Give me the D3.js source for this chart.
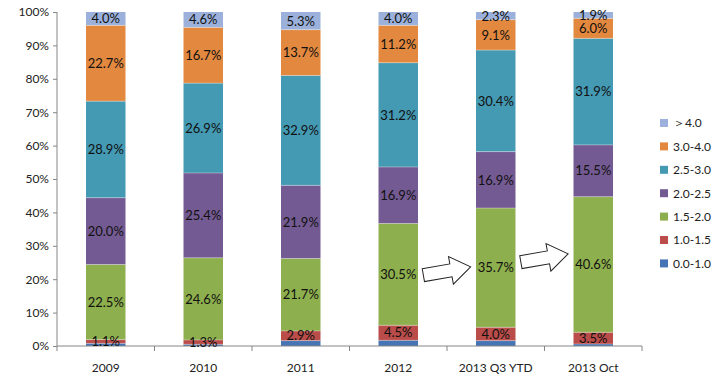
<!DOCTYPE html>
<html><head><meta charset="utf-8">
<script src="https://cdn.jsdelivr.net/npm/d3@7"></script>
<style>body{margin:0;background:#fff}svg{display:block}text{font-family:Lato,"Open Sans",sans-serif}</style>
</head><body><svg id="c" width="723" height="382"></svg>
<script>
const categories = ["2009","2010","2011","2012","2013 Q3 YTD","2013 Oct"];
const seriesNames = ["0.0-1.0","1.0-1.5","1.5-2.0","2.0-2.5","2.5-3.0","3.0-4.0","\uFF1E4.0"];
const s00_10 = [0.8,0.5,1.6,1.7,1.6,0.6];
const s10_15 = [1.1,1.3,2.9,4.5,4.0,3.5];
const s15_20 = [22.5,24.6,21.7,30.5,35.7,40.6];
const s20_25 = [20.0,25.4,21.9,16.9,16.9,15.5];
const s25_30 = [28.9,26.9,32.9,31.2,30.4,31.9];
const s30_40 = [22.7,16.7,13.7,11.2,9.1,6.0];
const sGt40 = [4.0,4.6,5.3,4.0,2.3,1.9];
const labelled = [false,true,true,true,true,true,true];
const yTicks = [0,10,20,30,40,50,60,70,80,90,100];
const colors = ["#4575b5","#ba4c49","#8eaf4d","#745a92","#4499b3","#e3883f","#9bb1db"];
const arrowFrom = ["2012","2013 Q3 YTD"];

const allSeries = [s00_10,s10_15,s15_20,s20_25,s25_30,s30_40,sGt40];
const svg = d3.select("#c");
const x = d3.scaleBand().domain(categories).range([57,642]).paddingInner(0.595).paddingOuter(0.2975);
const xb = d3.scaleBand().domain(categories).range([57,642]);
const y = d3.scaleLinear().domain([0,100]).range([346,12]);

const rows = categories.map((c,i)=>{const o={cat:c}; seriesNames.forEach((s,k)=>o[s]=allSeries[k][i]); return o;});
const stacked = d3.stack().keys(seriesNames)(rows);

// bars
const g = svg.append("g");
stacked.forEach((layer,k)=>{
  g.selectAll(null).data(layer).enter().append("rect")
    .attr("x",d=>x(d.data.cat)).attr("width",x.bandwidth())
    .attr("y",d=>y(d[1])).attr("height",d=>y(d[0])-y(d[1]))
    .attr("fill",colors[k]);
});
// subtle separators
stacked.forEach((layer,k)=>{
  if(k===0) return;
  g.selectAll(null).data(layer).enter().append("line")
    .attr("x1",d=>x(d.data.cat)).attr("x2",d=>x(d.data.cat)+x.bandwidth())
    .attr("y1",d=>y(d[0])).attr("y2",d=>y(d[0]))
    .attr("stroke","#ffffff").attr("stroke-opacity",0.35).attr("stroke-width",1);
});

// axes
const ya = svg.append("g").attr("transform","translate(57,0)")
  .call(d3.axisLeft(y).tickValues(yTicks).tickFormat(d=>d+"%").tickSize(4).tickPadding(4));
ya.select(".domain").attr("stroke","#868686").attr("d","M0,12V346");
ya.selectAll(".tick line").attr("stroke","#868686");
ya.selectAll("text").attr("font-size",12).attr("fill","#222");

const xa = svg.append("g").attr("transform","translate(0,346)");
xa.append("line").attr("x1",57).attr("x2",642).attr("stroke","#868686");
const bounds = categories.map(c=>xb(c)).concat([xb(categories[5])+xb.bandwidth()]);
xa.selectAll(null).data(bounds).enter().append("line")
  .attr("x1",d=>d).attr("x2",d=>d).attr("y1",0).attr("y2",5).attr("stroke","#868686");
xa.selectAll(null).data(categories).enter().append("text")
  .attr("x",d=>x(d)+x.bandwidth()/2).attr("y",26).attr("text-anchor","middle")
  .attr("font-size",12).attr("fill","#222").text(d=>d);

// data labels
stacked.forEach((layer,k)=>{
  if(!labelled[k]) return;
  svg.selectAll(null).data(layer).enter().append("text")
    .attr("x",d=>x(d.data.cat)+x.bandwidth()/2)
    .attr("y",d=>(y(d[0])+y(d[1]))/2)
    .attr("dy","0.36em").attr("text-anchor","middle")
    .attr("font-size",13).attr("fill","#111")
    .text(d=>(d[1]-d[0]).toFixed(1)+"%");
});

// arrows between bars (decoration)
const arrowPath = "M-24,-6.5L4,-6.5L4,-14L24,0L4,14L4,6.5L-24,6.5Z";
arrowFrom.forEach((c,i)=>{
  const left = x(c)+x.bandwidth();
  const right = x(categories[categories.indexOf(c)+1]);
  const cx = (left+right)/2;
  const cy = i===0 ? 271 : 258;
  svg.append("path").attr("d",arrowPath)
    .attr("transform",`translate(${cx},${cy}) rotate(-10)`)
    .attr("fill","#fff").attr("stroke","#222").attr("stroke-width",1);
});

// legend
const lg = svg.append("g");
const order = seriesNames.slice().reverse();
order.forEach((s,i)=>{
  const k = seriesNames.indexOf(s);
  const yy = 123 + i*23.4;
  lg.append("rect").attr("x",660).attr("y",yy-4).attr("width",8).attr("height",8).attr("fill",colors[k]);
  lg.append("text").attr("x",673).attr("y",yy).attr("dy","0.36em").attr("font-size",12).attr("fill","#222").text(s);
});
</script></body></html>
